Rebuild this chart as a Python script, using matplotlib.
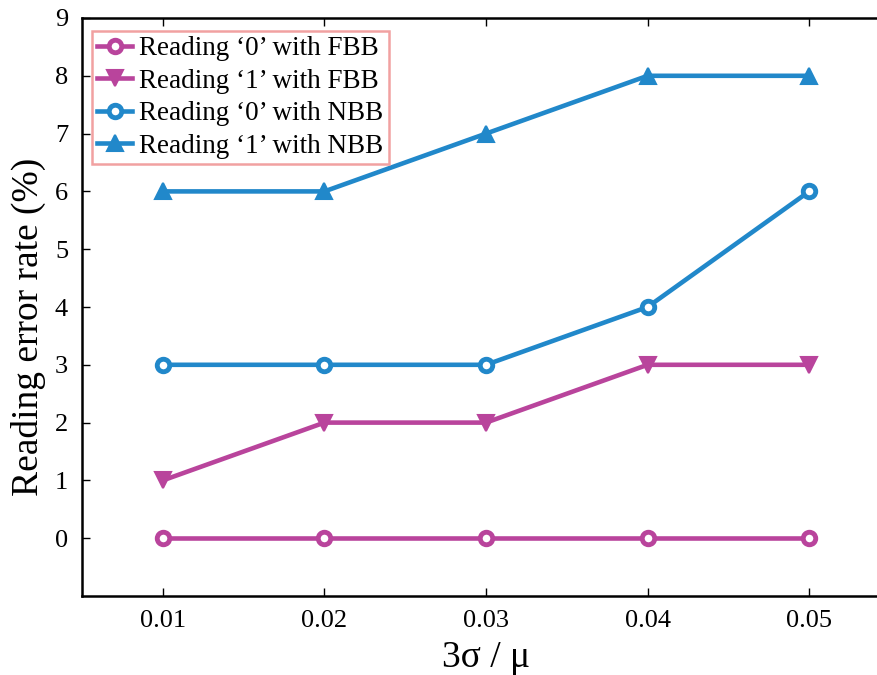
import matplotlib
matplotlib.use("Agg")
import matplotlib.pyplot as plt

x = [0.01, 0.02, 0.03, 0.04, 0.05]
fbb0 = [0, 0, 0, 0, 0]
fbb1 = [1, 2, 2, 3, 3]
nbb0 = [3, 3, 3, 4, 6]
nbb1 = [6, 6, 7, 8, 8]
xticks = [0.01, 0.02, 0.03, 0.04, 0.05]
xticklabels = ["0.01", "0.02", "0.03", "0.04", "0.05"]
yticks = list(range(0, 10))

plt.rcParams['font.family'] = ['Liberation Serif', 'DejaVu Serif']
fig = plt.figure(figsize=(8.77, 6.75), dpi=100)
ax = fig.add_axes([82/877, 1-596/675, (890-82)/877, (596-18)/675])

mag = '#B9449C'
blue = '#2188CA'
lw = 3.3
ax.plot(x, fbb0, color=mag, lw=lw, marker='o', ms=9, mfc='white', mew=3.5, label="Reading \u20180\u2019 with FBB")
ax.plot(x, fbb1, color=mag, lw=lw, marker='v', ms=11, mfc=mag, mew=1.5, label="Reading \u20181\u2019 with FBB")
ax.plot(x, nbb0, color=blue, lw=lw, marker='o', ms=9, mfc='white', mew=3.5, label="Reading \u20180\u2019 with NBB")
ax.plot(x, nbb1, color=blue, lw=lw, marker='^', ms=11, mfc=blue, mew=1.5, label="Reading \u20181\u2019 with NBB")

ax.set_xlim(0.005, 0.055)
ax.set_ylim(-1, 9)
ax.set_xticks(xticks)
ax.set_xticklabels(xticklabels)
ax.set_yticks(yticks)
ax.tick_params(direction='in', length=6, width=1, labelsize=19, top=True, pad=10)
for s in ['left', 'bottom', 'top']:
    ax.spines[s].set_linewidth(1.8)
ax.spines['right'].set_visible(False)
ax.set_xlabel("3\u03c3 / \u03bc", fontsize=27, labelpad=6)
ax.set_ylabel("Reading error rate (%)", fontsize=27)
ax.yaxis.set_label_coords(-0.044, 0.465)

leg = ax.legend(loc='upper left', bbox_to_anchor=(0.012, 0.978), fontsize=19.5, frameon=True,
                fancybox=False, handlelength=1.3, handletextpad=0.25, labelspacing=0.28,
                borderpad=0.2, borderaxespad=0)
leg.get_frame().set_edgecolor('#EE8A8A')
leg.get_frame().set_linewidth(1.8)

fig.savefig("out.png", dpi=100)
